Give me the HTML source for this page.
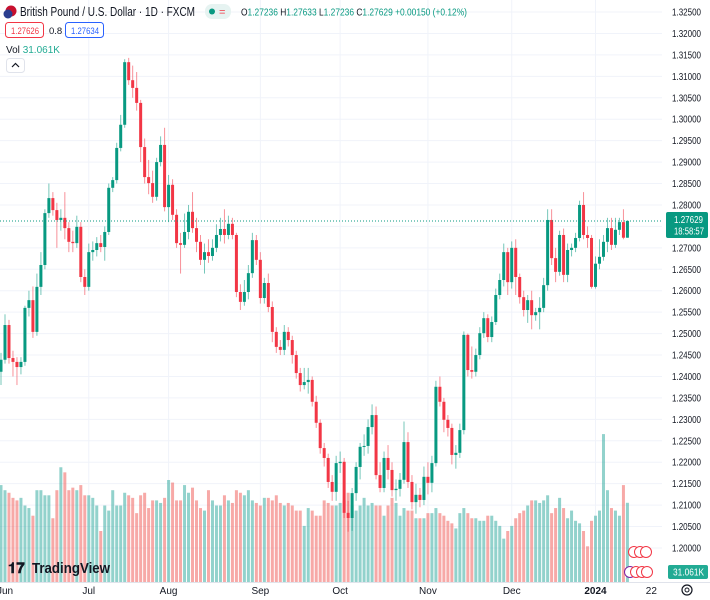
<!DOCTYPE html>
<html><head><meta charset="utf-8"><style>
html,body{margin:0;padding:0;background:#fff;}
svg{display:block;font-family:"Liberation Sans",sans-serif;}
</style></head><body>
<svg id="chart" width="710" height="600" viewBox="0 0 710 600">
<g id="grid"></g>
<g id="vol"></g>
<g id="candles"></g>
<g id="yaxis"></g>
<g id="xaxis"></g>
<line x1="0" y1="221" x2="662" y2="221" stroke="#089981" stroke-width="1" stroke-dasharray="1,2"/>
<rect x="666" y="212" width="42" height="26" rx="2" fill="#089981"/>
<text x="674" y="223" font-size="10" fill="#fff" textLength="29" lengthAdjust="spacingAndGlyphs">1.27629</text>
<text x="674" y="234.5" font-size="10" fill="#fff" textLength="30" lengthAdjust="spacingAndGlyphs">18:58:57</text>
<rect x="668" y="565" width="40" height="14" rx="2" fill="#22ab94"/>
<text x="673" y="575.5" font-size="10" fill="#fff" textLength="31" lengthAdjust="spacingAndGlyphs">31.061K</text>
<g>
 <circle cx="11" cy="11" r="5.5" fill="#c8102e"/>
 <circle cx="8" cy="14" r="4.5" fill="#2a3d8f"/>
 <text x="20" y="16" font-size="12.5" fill="#131722" textLength="175" lengthAdjust="spacingAndGlyphs">British Pound / U.S. Dollar · 1D · FXCM</text>
 <rect x="205" y="4" width="26" height="15" rx="7" fill="#e6f3f1"/>
 <circle cx="212" cy="11.5" r="3" fill="#089981"/>
 <text x="219" y="15.5" font-size="11" fill="#f23645">=</text>
 <text x="241" y="15.5" font-size="10.5" fill="#131722" textLength="226" lengthAdjust="spacingAndGlyphs">O<tspan fill="#089981">1.27236</tspan> H<tspan fill="#089981">1.27633</tspan> L<tspan fill="#089981">1.27236</tspan> C<tspan fill="#089981">1.27629 +0.00150 (+0.12%)</tspan></text>
 <rect x="5.5" y="22.5" width="38" height="15" rx="3" fill="#fff" stroke="#f23645"/>
 <text x="11" y="34" font-size="9.5" fill="#f23645" textLength="28" lengthAdjust="spacingAndGlyphs">1.27626</text>
 <text x="49" y="34" font-size="9.5" fill="#131722">0.8</text>
 <rect x="65.5" y="22.5" width="38" height="15" rx="3" fill="#fff" stroke="#2962ff"/>
 <text x="71" y="34" font-size="9.5" fill="#2962ff" textLength="28" lengthAdjust="spacingAndGlyphs">1.27634</text>
 <text x="6" y="53" font-size="10" fill="#131722">Vol <tspan fill="#22ab94">31.061K</tspan></text>
 <rect x="6.5" y="58.5" width="18" height="14" rx="3" fill="#fff" stroke="#e0e3eb"/>
 <path d="M12 67 L15.5 63.5 L19 67" fill="none" stroke="#131722" stroke-width="1.2"/>
</g>
<g>
 <text x="8" y="573" font-size="15" font-weight="bold" fill="#131722">𝟏𝟕</text>
 <text x="32" y="573" font-size="15" fill="#131722" font-weight="bold" textLength="78" lengthAdjust="spacingAndGlyphs">TradingView</text>
</g>
<g>
 <circle cx="634" cy="552" r="5.5" fill="#fff" stroke="#f23645"/><circle cx="640" cy="552" r="5.5" fill="#fff" stroke="#f23645"/><circle cx="646" cy="552" r="5.5" fill="#fff" stroke="#f23645"/>
 <circle cx="630" cy="572" r="5.5" fill="#fff" stroke="#7b1fa2"/><circle cx="636" cy="572" r="5.5" fill="#fff" stroke="#f23645"/><circle cx="642" cy="572" r="5.5" fill="#fff" stroke="#f23645"/><circle cx="647" cy="572" r="5.5" fill="#fff" stroke="#f23645"/>
</g>
<g><circle cx="687" cy="590" r="5" fill="none" stroke="#131722" stroke-width="1.2"/><circle cx="687" cy="590" r="2" fill="none" stroke="#131722"/></g>
</svg>
<script>
const closes=[1.2439,1.2520,1.2443,1.2434,1.2422,1.2434,1.2560,1.2578,1.2504,1.2609,1.2660,1.2781,1.2816,1.2788,1.2765,1.2770,1.2746,1.2714,1.2711,1.2749,1.2632,1.2609,1.2690,1.2695,1.2711,1.2702,1.2737,1.2840,1.2858,1.2933,1.2987,1.3133,1.3091,1.3073,1.3038,1.2935,1.2865,1.2851,1.2819,1.2900,1.2940,1.2795,1.2847,1.2777,1.2711,1.2707,1.2737,1.2784,1.2746,1.2714,1.2672,1.2690,1.2681,1.2700,1.2730,1.2744,1.2730,1.2756,1.2730,1.2597,1.2574,1.2597,1.2641,1.2718,1.2672,1.2583,1.2618,1.2562,1.2504,1.2469,1.2462,1.2504,1.2485,1.2450,1.2408,1.2380,1.2387,1.2392,1.2341,1.2292,1.2233,1.2210,1.2154,1.2131,1.2198,1.2201,1.2082,1.2070,1.2128,1.2189,1.2236,1.2238,1.2282,1.2310,1.2170,1.2140,1.2210,1.2182,1.2135,1.2138,1.2159,1.2247,1.2154,1.2107,1.2124,1.2112,1.2166,1.2152,1.2198,1.2376,1.2341,1.2299,1.2280,1.2217,1.2222,1.2275,1.2497,1.2415,1.2411,1.2450,1.2501,1.2536,1.2492,1.2527,1.2590,1.2625,1.2690,1.2620,1.2700,1.2632,1.2585,1.2555,1.2578,1.2543,1.2550,1.2560,1.2613,1.2765,1.2676,1.2644,1.2730,1.2637,1.2695,1.2700,1.2723,1.2800,1.2730,1.2723,1.2609,1.2663,1.2679,1.2714,1.2746,1.2707,1.2742,1.2760,1.27236,1.27629];
const opens=[1.2411].concat(closes.slice(0,-1));
const highs=[1.2455,1.2545,1.2532,1.2460,1.2445,1.2445,1.2565,1.2600,1.2610,1.2640,1.2690,1.2790,1.2850,1.2830,1.2805,1.2790,1.2830,1.2760,1.2740,1.2775,1.2760,1.2650,1.2710,1.2715,1.2725,1.2730,1.2750,1.2850,1.2865,1.2945,1.3010,1.3140,1.3143,1.3125,1.3110,1.3045,1.2955,1.2905,1.2880,1.2910,1.2960,1.2980,1.2870,1.2860,1.2790,1.2735,1.2780,1.2800,1.2830,1.2770,1.2730,1.2710,1.2720,1.2720,1.2755,1.2770,1.2790,1.2775,1.2770,1.2735,1.2615,1.2625,1.2660,1.2735,1.2730,1.2690,1.2630,1.2640,1.2575,1.2515,1.2485,1.2520,1.2515,1.2495,1.2460,1.2420,1.2420,1.2420,1.2400,1.2355,1.2300,1.2245,1.2220,1.2170,1.2215,1.2225,1.2210,1.2110,1.2140,1.2200,1.2245,1.2265,1.2300,1.2335,1.2330,1.2200,1.2225,1.2240,1.2200,1.2160,1.2175,1.2295,1.2270,1.2170,1.2150,1.2140,1.2190,1.2200,1.2215,1.2390,1.2400,1.2350,1.2310,1.2290,1.2240,1.2290,1.2505,1.2500,1.2470,1.2465,1.2515,1.2550,1.2545,1.2540,1.2605,1.2640,1.2710,1.2700,1.2715,1.2720,1.2640,1.2600,1.2590,1.2600,1.2560,1.2585,1.2630,1.2790,1.2790,1.2700,1.2740,1.2745,1.2710,1.2710,1.2735,1.2810,1.2830,1.2750,1.2730,1.2680,1.2720,1.2730,1.2770,1.2770,1.2770,1.2770,1.2790,1.27633];
const lows=[1.2380,1.2430,1.2430,1.2400,1.2380,1.2405,1.2425,1.2540,1.2490,1.2495,1.2590,1.2650,1.2770,1.2775,1.2700,1.2740,1.2720,1.2690,1.2690,1.2700,1.2620,1.2590,1.2600,1.2670,1.2680,1.2690,1.2670,1.2730,1.2830,1.2850,1.2925,1.2980,1.3080,1.3050,1.3020,1.2900,1.2850,1.2825,1.2805,1.2810,1.2890,1.2785,1.2760,1.2765,1.2700,1.2640,1.2700,1.2720,1.2735,1.2690,1.2660,1.2640,1.2665,1.2670,1.2690,1.2715,1.2710,1.2720,1.2720,1.2585,1.2555,1.2565,1.2580,1.2630,1.2660,1.2570,1.2570,1.2550,1.2480,1.2455,1.2450,1.2450,1.2470,1.2430,1.2395,1.2365,1.2370,1.2360,1.2330,1.2280,1.2220,1.2190,1.2140,1.2110,1.2110,1.2175,1.2070,1.2038,1.2040,1.2110,1.2160,1.2215,1.2220,1.2265,1.2160,1.2130,1.2130,1.2160,1.2120,1.2110,1.2120,1.2150,1.2140,1.2090,1.2080,1.2095,1.2100,1.2125,1.2130,1.2190,1.2330,1.2270,1.2260,1.2195,1.2185,1.2210,1.2265,1.2400,1.2395,1.2400,1.2440,1.2490,1.2480,1.2480,1.2520,1.2580,1.2610,1.2590,1.2605,1.2590,1.2570,1.2540,1.2525,1.2510,1.2530,1.2510,1.2550,1.2600,1.2660,1.2620,1.2635,1.2620,1.2620,1.2680,1.2690,1.2715,1.2720,1.2700,1.2605,1.2605,1.2650,1.2670,1.2690,1.2695,1.2700,1.2730,1.2720,1.27236];
const volumes=[38,36,35,33,32,33,30,29,26,36,36,34,34,25,36,45,43,36,37,36,38,34,34,33,30,20,30,28,36,30,30,35,34,33,27,34,35,29,32,32,31,33,40,39,32,32,38,35,37,32,29,28,36,32,30,30,34,32,31,36,35,34,36,32,31,30,33,33,32,34,31,30,31,30,28,28,22,29,28,26,26,32,31,30,30,31,32,35,30,28,30,33,30,31,30,30,26,30,33,31,26,29,28,28,25,25,25,27,27,29,27,26,24,23,21,27,29,27,25,25,24,24,26,26,24,22,17,20,22,25,27,28,30,32,32,31,32,34,27,29,33,29,25,28,24,23,20,14,24,26,28,58,36,29,28,26,38,31.061];
const priceTicks=[1.325,1.32,1.315,1.31,1.305,1.30,1.295,1.29,1.285,1.28,1.275,1.27,1.265,1.26,1.255,1.25,1.245,1.24,1.235,1.23,1.225,1.22,1.215,1.21,1.205,1.20];
const monthLabels=["Jun","Jul","Aug","Sep","Oct","Nov","Dec","2024","22"];
const monthIndex=[0,22,42,65,85,107,128,149,163];

const NS="http://www.w3.org/2000/svg";
function mk(tag,attrs,parent){const e=document.createElementNS(NS,tag);for(const k in attrs)e.setAttribute(k,attrs[k]);parent.appendChild(e);return e;}
const yOf=p=>12+(1.325-p)*4288;
const xOf=i=>1+i*3.99;
const vY=v=>582-v*2.55;
const grid=document.getElementById('grid'),yax=document.getElementById('yaxis'),xax=document.getElementById('xaxis');
priceTicks.forEach(p=>{
  const l=mk('line',{x1:0,x2:662,y1:yOf(p),y2:yOf(p),stroke:'#f0f3fa'},grid);
  
  
  const t=mk('text',{x:672,y:yOf(p)+3.5,'font-size':'10',fill:'#131722',textLength:'29',lengthAdjust:'spacingAndGlyphs'},yax);
  t.textContent=p.toFixed(5);
  
  
});
monthLabels.forEach((m,k)=>{
  const x=xOf(monthIndex[k]);
  if(k>0&&k<8){const l=mk('line',{x1:x,x2:x,y1:0,y2:582,stroke:'#f0f3fa'},grid);
  
  }
  const t=mk('text',{x:k==0?-3:x,y:594,'font-size':'10',fill:'#131722','text-anchor':k==0?'start':'middle','font-weight':k==7?'bold':'normal'},xax);
  t.textContent=m;
  
  
});
mk('line',{x1:0,x2:710,y1:582.5,y2:582.5,stroke:'#e0e3eb'},xax);
const vg=document.getElementById('vol'),cg=document.getElementById('candles');
closes.forEach((c,i)=>{
  const o=opens[i],up=c>=o,x=xOf(i);
  const vb=mk('rect',{x:x-1.5,y:vY(volumes[i]),width:3,height:582-vY(volumes[i]),fill:up?'rgba(38,166,154,0.5)':'rgba(239,83,80,0.5)'},vg);
  
  
  const col=up?'#089981':'#f23645';
  const w=mk('line',{x1:x,x2:x,y1:yOf(highs[i]),y2:yOf(lows[i]),stroke:col,'stroke-opacity':0.55,'stroke-width':1},cg);
  
  
  const top=yOf(Math.max(o,c)),bot=yOf(Math.min(o,c));
  const b=mk('rect',{x:x-1.5,y:top,width:3,height:Math.max(1,bot-top),fill:col},cg);
  
  
});
</script>
</body></html>
